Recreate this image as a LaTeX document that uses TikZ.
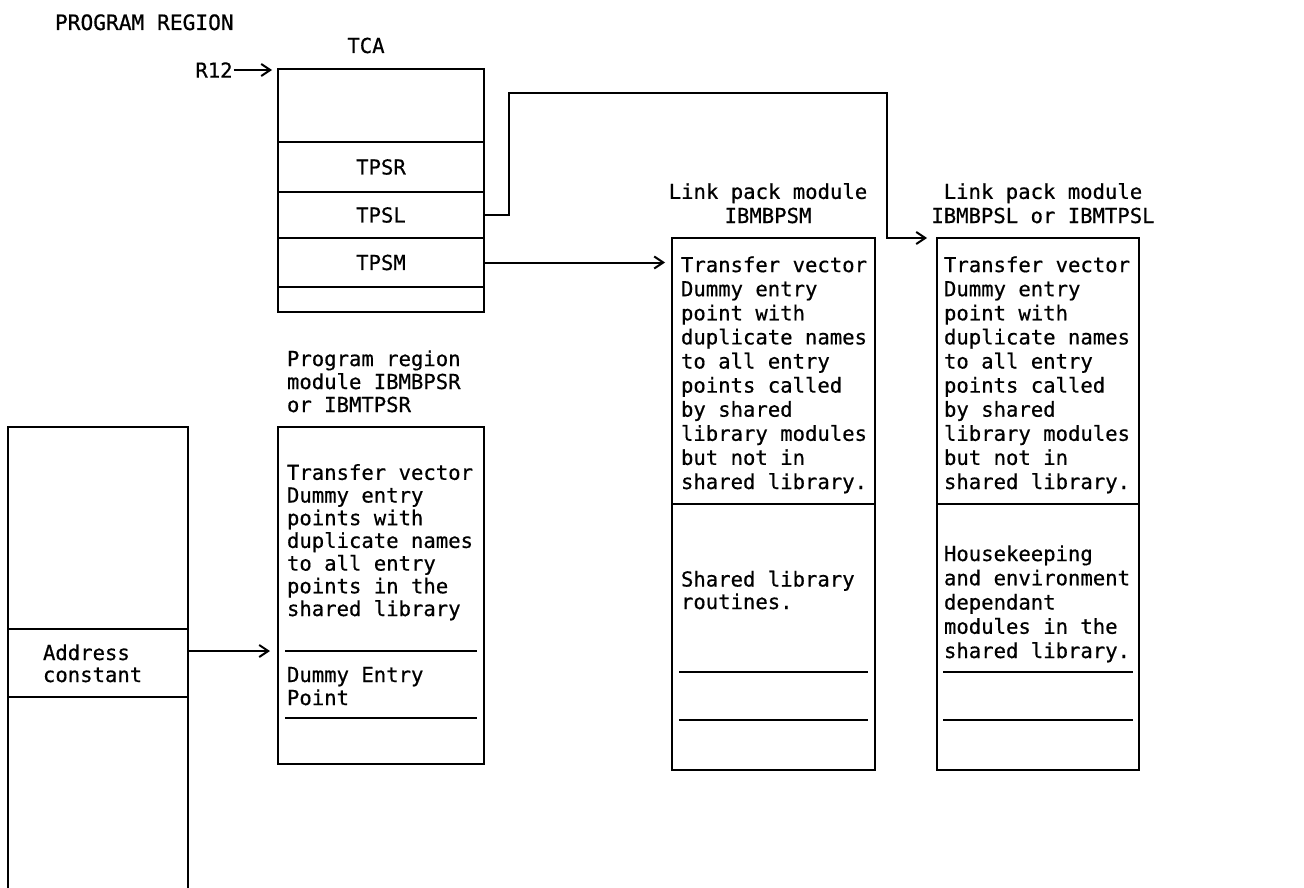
\documentclass[tikz,border=0pt]{standalone}
\usepackage{fontspec}
\newfontfamily\monofamily[FakeBold=0.6]{DejaVu Sans Mono}
\newcommand\monofs[2]{\monofamily\fontsize{#1}{#2}\selectfont}
\usetikzlibrary{arrows.meta}
\begin{document}
\begin{tikzpicture}[x=1pt,y=-1pt,
  line width=2pt,
  cell/.style={draw, inner sep=0pt, outer sep=0pt, anchor=north west, font=\monofs{20.6}{24}},
  txt/.style={font=\monofs{20.6}{24.1}, inner sep=0pt, align=left, anchor=base west},
  conn/.style={-{Straight Barb[length=9pt,width=12pt]}},
]
\useasboundingbox (0,0) rectangle (1304,888);

% heading
\node[txt, font=\monofs{21.2}{24}] (title) at (54,30) {PROGRAM REGION};

% TCA control block
\node[txt, anchor=base] (tcalabel) at (366,53) {TCA};
\node[cell, minimum width=206pt, minimum height=73pt] (tcatop) at (278,69) {};
\node[cell, minimum width=206pt, minimum height=50pt] (tpsr) at (tcatop.south west) {TPSR};
\node[cell, minimum width=206pt, minimum height=46pt] (tpsl) at (tpsr.south west) {TPSL};
\node[cell, minimum width=206pt, minimum height=49pt] (tpsm) at (tpsl.south west) {TPSM};
\node[cell, minimum width=206pt, minimum height=25pt] (tcaend) at (tpsm.south west) {};
\node[txt, anchor=center] (r12) at (214,70) {R12};
\draw[conn, shorten >=6pt] (r12.east) -- (r12.east -| tcatop.west);

% program containing the address constant
\node[cell, minimum width=180pt, minimum height=202pt] (ptop) at (8,427) {};
\node[cell, minimum width=180pt, minimum height=68pt] (addr) at (ptop.south west) {};
\node[txt, font=\monofs{20.6}{22}] (addrtext) at (42,682) {Address\\constant};
\draw (addr.south west) -- ++(0,200);
\draw (addr.south east) -- ++(0,200);

% program region module IBMBPSR / IBMTPSR
\node[txt, font=\monofs{20.6}{23}] (psrlabel) at (286,412) {Program region\\module IBMBPSR\\or IBMTPSR};
\node[cell, minimum width=206pt, minimum height=337pt] (psr) at (278,427) {};
\node[txt, font=\monofs{20.6}{22.7}] (psrtv) at (286,616) {Transfer vector\\Dummy entry\\points with\\duplicate names\\to all entry\\points in the\\shared library};
\coordinate (psrA) at (285,651);
\coordinate (psrB) at (477,651);
\coordinate (psrC) at (285,718);
\coordinate (psrD) at (477,718);
\draw (psrA) -- (psrB);
\draw (psrC) -- (psrD);
\node[txt, font=\monofs{20.6}{23}] (psrdep) at (286,705) {Dummy Entry\\Point};
\draw[conn, shorten >=8pt] (addr.east |- psrA) -- (psr.west |- psrA);

% link pack module IBMBPSM
\node[txt, align=center, anchor=base] (lsmlabel) at (768,223) {Link pack module\\IBMBPSM};
\node[cell, minimum width=203pt, minimum height=532pt] (lsm) at (672,238) {};
\draw (lsm.west |- 0,504) -- (lsm.east |- 0,504);
\node[txt] (lsmtv) at (680,489) {Transfer vector\\Dummy entry\\point with\\duplicate names\\to all entry\\points called\\by shared\\library modules\\but not in\\shared library.};
\node[txt, font=\monofs{20.6}{22.5}] (lsmrt) at (680,609) {Shared library\\routines.};
\draw (679,672) -- (868,672);
\draw (679,720) -- (868,720);
\draw[conn, shorten >=7pt] (tpsm.east) -- (tpsm.east -| lsm.west);

% link pack module IBMBPSL / IBMTPSL
\node[txt, align=center, anchor=base] (lsllabel) at (1043,223) {Link pack module\\IBMBPSL or IBMTPSL};
\node[cell, minimum width=202pt, minimum height=532pt] (lsl) at (937,238) {};
\draw (lsl.west |- 0,504) -- (lsl.east |- 0,504);
\node[txt] (lsltv) at (943,489) {Transfer vector\\Dummy entry\\point with\\duplicate names\\to all entry\\points called\\by shared\\library modules\\but not in\\shared library.};
\node[txt, font=\monofs{20.6}{24.25}] (lslhk) at (943,658) {Housekeeping\\and environment\\dependant\\modules in the\\shared library.};
\draw (943,672) -- (1133,672);
\draw (943,720) -- (1133,720);
\coordinate (j1) at (509,93);
\coordinate (j2) at (887,93);
\draw[conn, shorten >=10pt] (tpsl.east) -| (j1) -- (j2) |- (lsl.north west);
\end{tikzpicture}
\end{document}
